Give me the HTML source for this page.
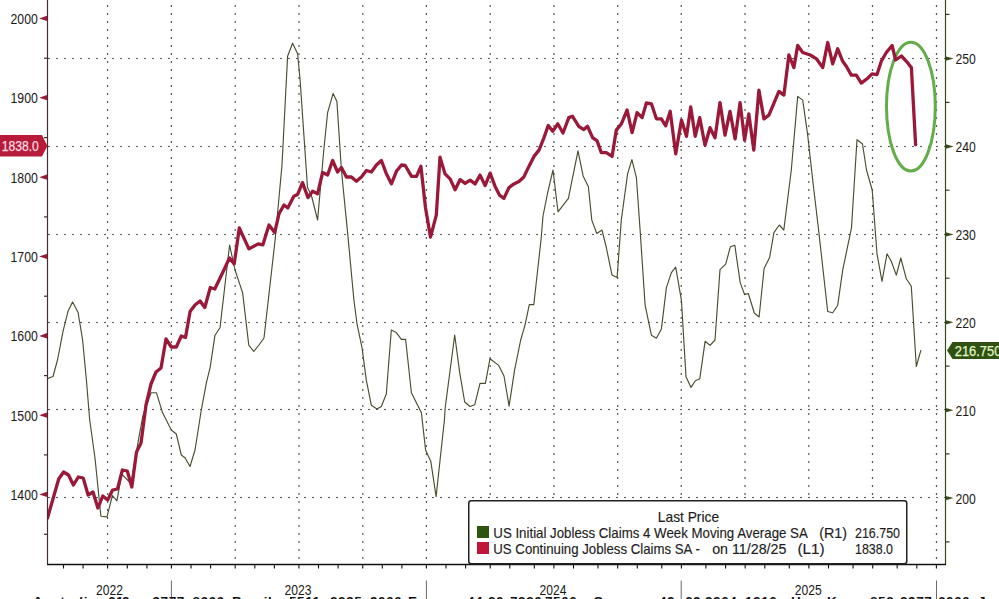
<!DOCTYPE html>
<html><head><meta charset="utf-8"><style>
html,body{margin:0;padding:0;background:#fff;width:999px;height:599px;overflow:hidden;position:relative}
text{font-family:"Liberation Sans",sans-serif}
.ax{font-size:14px;fill:#1a1a1a}
.lbl{font-size:14px}
.lg{font-size:14.5px;fill:#1c1c1c;stroke:#1c1c1c;stroke-width:0.15px}
#foot{position:absolute;left:0;top:594px;width:999px;height:20px;letter-spacing:0.6px;font-family:"Liberation Sans",sans-serif;font-size:13.5px;font-weight:bold;color:#111;white-space:nowrap}
</style></head><body>
<svg width="999" height="599" viewBox="0 0 999 599" style="position:absolute;left:0;top:0"><line x1="48" y1="58.5" x2="945" y2="58.5" stroke="#555" stroke-width="1.2" stroke-dasharray="2 6"/><line x1="48" y1="146.5" x2="945" y2="146.5" stroke="#555" stroke-width="1.2" stroke-dasharray="2 6"/><line x1="48" y1="234.5" x2="945" y2="234.5" stroke="#555" stroke-width="1.2" stroke-dasharray="2 6"/><line x1="48" y1="322.5" x2="945" y2="322.5" stroke="#555" stroke-width="1.2" stroke-dasharray="2 6"/><line x1="48" y1="409.5" x2="945" y2="409.5" stroke="#555" stroke-width="1.2" stroke-dasharray="2 6"/><line x1="48" y1="497.5" x2="945" y2="497.5" stroke="#555" stroke-width="1.2" stroke-dasharray="2 6"/><line x1="107.6" y1="0" x2="107.6" y2="564" stroke="#555" stroke-width="1.2" stroke-dasharray="2 6" stroke-dashoffset="3"/><line x1="171.4" y1="0" x2="171.4" y2="564" stroke="#555" stroke-width="1.2" stroke-dasharray="2 6" stroke-dashoffset="3"/><line x1="235.2" y1="0" x2="235.2" y2="564" stroke="#555" stroke-width="1.2" stroke-dasharray="2 6" stroke-dashoffset="3"/><line x1="299" y1="0" x2="299" y2="564" stroke="#555" stroke-width="1.2" stroke-dasharray="2 6" stroke-dashoffset="3"/><line x1="362.8" y1="0" x2="362.8" y2="564" stroke="#555" stroke-width="1.2" stroke-dasharray="2 6" stroke-dashoffset="3"/><line x1="426.4" y1="0" x2="426.4" y2="564" stroke="#555" stroke-width="1.2" stroke-dasharray="2 6" stroke-dashoffset="3"/><line x1="490.2" y1="0" x2="490.2" y2="564" stroke="#555" stroke-width="1.2" stroke-dasharray="2 6" stroke-dashoffset="3"/><line x1="554" y1="0" x2="554" y2="564" stroke="#555" stroke-width="1.2" stroke-dasharray="2 6" stroke-dashoffset="3"/><line x1="617.7" y1="0" x2="617.7" y2="564" stroke="#555" stroke-width="1.2" stroke-dasharray="2 6" stroke-dashoffset="3"/><line x1="681.2" y1="0" x2="681.2" y2="564" stroke="#555" stroke-width="1.2" stroke-dasharray="2 6" stroke-dashoffset="3"/><line x1="745" y1="0" x2="745" y2="564" stroke="#555" stroke-width="1.2" stroke-dasharray="2 6" stroke-dashoffset="3"/><line x1="808.8" y1="0" x2="808.8" y2="564" stroke="#555" stroke-width="1.2" stroke-dasharray="2 6" stroke-dashoffset="3"/><line x1="872.5" y1="0" x2="872.5" y2="564" stroke="#555" stroke-width="1.2" stroke-dasharray="2 6" stroke-dashoffset="3"/><line x1="936.5" y1="0" x2="936.5" y2="564" stroke="#555" stroke-width="1.2" stroke-dasharray="2 6" stroke-dashoffset="3"/><ellipse cx="910.9" cy="106.6" rx="24.4" ry="64.4" fill="none" stroke="#62ad4a" stroke-width="3"/><defs><clipPath id="pa"><rect x="48" y="0" width="897" height="564"/></clipPath></defs><g clip-path="url(#pa)"><polyline points="47.5,378.5 53,376.5 57.5,360 63,331.4 68,311.3 72.6,302 78.1,312.6 82.6,340 86.4,380 89.7,420 95,458 100.9,516.3 107,516.9 112.4,495.5 116.9,500.8 121.7,474.1 131,483.5 139,436.8 143,415.4 151.1,392.7 156.4,392.7 162.5,412.6 171.3,430 176.3,434 181.3,455 185,457.7 190,466.5 195,450 201.3,410 206.4,382.6 210.1,367.6 215,335.2 220,327.7 229.6,245 235,270 242.6,292.6 248.8,345.2 253.8,351.5 259,345 264,338 275.1,240 282,165 287.6,56.3 292.6,43.3 297.6,53.8 300.1,80 306.3,170 307.5,187.6 311.3,195 317.6,220 323.8,150 327.6,112.7 333.1,93.4 336.9,101.4 341.4,170 347.6,232.6 353.9,300 357,323.8 362,347.6 366.3,380.2 371.3,405.2 377,409 381.3,406.5 386.3,394 391.3,330 396.3,332.6 401.4,339.3 405.6,339.3 411.4,392.7 421.4,412.7 425.6,450 430.8,461.4 436.1,496.7 444.4,420 445.2,407.7 454.7,335 459.7,372.6 464.7,402 470,406.5 474.7,404.8 480,383.4 485.4,383.4 490,358.7 498.7,365.4 504,376 509.1,406.1 514.7,369.4 520.7,340 525,325.1 529.3,304.6 533.8,304.6 541,240 543,216 547.5,193.4 553,170 558,211.8 568.4,198.4 578,150.9 583.1,175.9 588.4,186.7 591.8,220.1 596.8,233.5 602,230 606.3,247.5 612,275.1 617.1,277.6 621.3,220 627.6,173.9 631.9,159.6 636.4,177.7 640.1,230 645.1,305.1 651.4,335.2 656.4,338.2 661.4,328.9 666.4,287.6 671.4,272.6 675.7,267.1 681.4,300.1 686,376.7 691,387.4 695.4,380.7 699.8,378.7 705.1,341.3 710,345.4 715,340 720,269.6 725.7,264.1 730.4,246.7 734.8,245.2 740.2,282.6 744.6,294.6 748.3,293.5 754.3,313 759.1,317 764.1,268.5 769.6,257.6 773.9,232.6 779.3,225 783.8,230.1 791.3,170 797.7,96.4 802.7,100.1 807.7,135.2 812.7,180 818.9,232.6 827.7,311.5 832.7,312.8 837.7,305.2 842.7,270.2 851.5,227.6 857,139.7 862.5,144 866.5,170 872.2,190 877,253.8 882,281.3 887,253.8 891.3,261.3 896.3,275.1 900.8,258 906.3,278.8 911.3,286.3 916.3,366.5 920.9,350.2" fill="none" stroke="#464f30" stroke-width="1.15" stroke-linejoin="round"/><polyline points="47.5,518 58.7,479 63.6,472 68.5,475 73.4,485 78.3,477 83.2,478 88.1,495 93,492 97.9,508 102.8,496 107.7,500 112.6,490 117.5,489 122.4,470 127.3,471 131.8,487 136.5,452 141,443 146,405 151,384 156,372 161,368 166,339 171.3,347 176.3,347 181.3,336 185.5,337.5 190.1,311.5 195,305 200.1,301 204.8,307.5 210.3,287.5 214.8,289 222.6,272.7 229.5,258 234.2,264 239.3,228 248.9,248.9 258.2,243.9 262.9,244.8 269,225 274.7,232.6 279,213.8 284,205 287.8,208 293.8,196.3 297.5,194.6 302.5,182.6 308,197.6 312.6,191.3 317.6,193.8 322.6,172.5 327.6,175 332.6,160.5 337.6,172 341.4,167.5 346.4,177 351.4,177 356.4,181.3 361.4,177 366.4,170.5 371.4,172 376.4,165 381.4,160.5 386.4,173.8 391.4,183.8 396.4,171.3 401.5,165 405.2,165.5 411.5,176.3 416.5,176.3 420.9,166.3 425.5,207.7 430.5,237.2 436.3,215.2 440,157.1 445,173.9 450.1,178.9 455.1,189.7 460.1,179.6 465.1,183.4 470.1,180.1 475.1,183.9 480.1,175.1 485.1,185.6 490.1,173.1 495.1,186.4 499.6,195.2 503.9,198.4 508.9,187.7 513.9,183.9 518.9,181.4 523.9,176.9 528.9,166.4 534,156.4 539,150.1 544,137.6 548.2,125.5 552.7,131.3 557.7,123.8 563,133 568.8,117.6 572.5,116.3 578.8,126.3 583.8,129.6 587.5,126.3 592.6,137.6 597.1,140.9 601.3,152.6 606.3,152.6 612.1,156.4 616.3,130.1 621.4,123.8 627.1,110 632.1,132.6 637.1,112.6 642.1,117.6 646.4,103 651.4,103.8 656.4,118.8 661.4,118.8 665.7,125.8 670.2,111.3 675.7,153.9 681.5,120.1 686.5,136.3 690.7,107 695.2,136.3 699.7,117.6 705,145.2 710,127.7 715,137.7 720,102.6 725,135.2 730,111.4 735.1,138.9 740.1,102.6 744.6,140.2 748.8,113.9 753.8,150.2 758.9,90.1 763.9,118.9 768.9,115.1 778.9,91.4 783.9,95.1 788.9,55 793.9,67.6 797.7,45.5 802.7,52.5 810.2,55 816.5,58.8 822.7,67.6 827.7,42.5 832.7,63.8 837.7,48.8 842.7,61.3 846.3,66.3 851.3,75.1 856.3,75.1 861.3,83.1 867,78.8 872,73.8 877,74.6 881.3,61.3 886.3,52.5 892.1,45.5 895.6,60 901.4,56 906.4,61.3 911.4,67.6 915.6,144.7" fill="none" stroke="#9a1838" stroke-width="3.3" stroke-linejoin="round" stroke-linecap="round"/></g><line x1="47.5" y1="0" x2="47.5" y2="565" stroke="#4a2a3a" stroke-width="1.2"/><line x1="945.5" y1="0" x2="945.5" y2="565" stroke="#3a4622" stroke-width="1.2"/><line x1="47" y1="564.5" x2="946" y2="564.5" stroke="#111" stroke-width="1.6"/><line x1="63.5" y1="564" x2="63.5" y2="568.5" stroke="#111" stroke-width="1.1"/><line x1="83.1" y1="564" x2="83.1" y2="568.5" stroke="#111" stroke-width="1.1"/><line x1="107.6" y1="564" x2="107.6" y2="568.5" stroke="#111" stroke-width="1.1"/><line x1="127.3" y1="564" x2="127.3" y2="568.5" stroke="#111" stroke-width="1.1"/><line x1="146.9" y1="564" x2="146.9" y2="568.5" stroke="#111" stroke-width="1.1"/><line x1="171.4" y1="564" x2="171.4" y2="568.5" stroke="#111" stroke-width="1.1"/><line x1="191.0" y1="564" x2="191.0" y2="568.5" stroke="#111" stroke-width="1.1"/><line x1="210.6" y1="564" x2="210.6" y2="568.5" stroke="#111" stroke-width="1.1"/><line x1="235.2" y1="564" x2="235.2" y2="568.5" stroke="#111" stroke-width="1.1"/><line x1="254.8" y1="564" x2="254.8" y2="568.5" stroke="#111" stroke-width="1.1"/><line x1="274.4" y1="564" x2="274.4" y2="568.5" stroke="#111" stroke-width="1.1"/><line x1="298.9" y1="564" x2="298.9" y2="568.5" stroke="#111" stroke-width="1.1"/><line x1="318.5" y1="564" x2="318.5" y2="568.5" stroke="#111" stroke-width="1.1"/><line x1="338.1" y1="564" x2="338.1" y2="568.5" stroke="#111" stroke-width="1.1"/><line x1="362.7" y1="564" x2="362.7" y2="568.5" stroke="#111" stroke-width="1.1"/><line x1="382.3" y1="564" x2="382.3" y2="568.5" stroke="#111" stroke-width="1.1"/><line x1="401.9" y1="564" x2="401.9" y2="568.5" stroke="#111" stroke-width="1.1"/><line x1="426.4" y1="564" x2="426.4" y2="568.5" stroke="#111" stroke-width="1.1"/><line x1="446.0" y1="564" x2="446.0" y2="568.5" stroke="#111" stroke-width="1.1"/><line x1="465.6" y1="564" x2="465.6" y2="568.5" stroke="#111" stroke-width="1.1"/><line x1="490.2" y1="564" x2="490.2" y2="568.5" stroke="#111" stroke-width="1.1"/><line x1="509.8" y1="564" x2="509.8" y2="568.5" stroke="#111" stroke-width="1.1"/><line x1="534.3" y1="564" x2="534.3" y2="568.5" stroke="#111" stroke-width="1.1"/><line x1="553.9" y1="564" x2="553.9" y2="568.5" stroke="#111" stroke-width="1.1"/><line x1="573.5" y1="564" x2="573.5" y2="568.5" stroke="#111" stroke-width="1.1"/><line x1="598.0" y1="564" x2="598.0" y2="568.5" stroke="#111" stroke-width="1.1"/><line x1="617.7" y1="564" x2="617.7" y2="568.5" stroke="#111" stroke-width="1.1"/><line x1="637.3" y1="564" x2="637.3" y2="568.5" stroke="#111" stroke-width="1.1"/><line x1="661.8" y1="564" x2="661.8" y2="568.5" stroke="#111" stroke-width="1.1"/><line x1="681.4" y1="564" x2="681.4" y2="568.5" stroke="#111" stroke-width="1.1"/><line x1="705.9" y1="564" x2="705.9" y2="568.5" stroke="#111" stroke-width="1.1"/><line x1="725.6" y1="564" x2="725.6" y2="568.5" stroke="#111" stroke-width="1.1"/><line x1="745.2" y1="564" x2="745.2" y2="568.5" stroke="#111" stroke-width="1.1"/><line x1="764.8" y1="564" x2="764.8" y2="568.5" stroke="#111" stroke-width="1.1"/><line x1="789.3" y1="564" x2="789.3" y2="568.5" stroke="#111" stroke-width="1.1"/><line x1="808.9" y1="564" x2="808.9" y2="568.5" stroke="#111" stroke-width="1.1"/><line x1="828.5" y1="564" x2="828.5" y2="568.5" stroke="#111" stroke-width="1.1"/><line x1="853.1" y1="564" x2="853.1" y2="568.5" stroke="#111" stroke-width="1.1"/><line x1="872.7" y1="564" x2="872.7" y2="568.5" stroke="#111" stroke-width="1.1"/><line x1="897.2" y1="564" x2="897.2" y2="568.5" stroke="#111" stroke-width="1.1"/><line x1="916.8" y1="564" x2="916.8" y2="568.5" stroke="#111" stroke-width="1.1"/><line x1="936.4" y1="564" x2="936.4" y2="568.5" stroke="#111" stroke-width="1.1"/><line x1="171.4" y1="580.5" x2="171.4" y2="599" stroke="#6a6a6a" stroke-width="1"/><line x1="426.4" y1="580.5" x2="426.4" y2="599" stroke="#6a6a6a" stroke-width="1"/><line x1="681.2" y1="580.5" x2="681.2" y2="599" stroke="#6a6a6a" stroke-width="1"/><line x1="936.5" y1="580.5" x2="936.5" y2="599" stroke="#6a6a6a" stroke-width="1"/><path d="M39.2 18.5 L47 15.7 L47 21.0 Z" fill="#9a1838"/><text x="10.5" y="23.9" class="ax" textLength="27.3" lengthAdjust="spacingAndGlyphs">2000</text><path d="M39.2 97.8 L47 95.0 L47 100.3 Z" fill="#9a1838"/><text x="10.5" y="103.2" class="ax" textLength="27.3" lengthAdjust="spacingAndGlyphs">1900</text><path d="M39.2 177.2 L47 174.4 L47 179.7 Z" fill="#9a1838"/><text x="10.5" y="182.5" class="ax" textLength="27.3" lengthAdjust="spacingAndGlyphs">1800</text><path d="M39.2 256.5 L47 253.7 L47 259.0 Z" fill="#9a1838"/><text x="10.5" y="261.9" class="ax" textLength="27.3" lengthAdjust="spacingAndGlyphs">1700</text><path d="M39.2 335.9 L47 333.1 L47 338.4 Z" fill="#9a1838"/><text x="10.5" y="341.2" class="ax" textLength="27.3" lengthAdjust="spacingAndGlyphs">1600</text><path d="M39.2 415.2 L47 412.4 L47 417.8 Z" fill="#9a1838"/><text x="10.5" y="420.6" class="ax" textLength="27.3" lengthAdjust="spacingAndGlyphs">1500</text><path d="M39.2 494.6 L47 491.8 L47 497.1 Z" fill="#9a1838"/><text x="10.5" y="499.9" class="ax" textLength="27.3" lengthAdjust="spacingAndGlyphs">1400</text><line x1="44" y1="58.2" x2="47" y2="58.2" stroke="#3a2a30" stroke-width="1.2"/><line x1="44" y1="137.6" x2="47" y2="137.6" stroke="#3a2a30" stroke-width="1.2"/><line x1="44" y1="216.9" x2="47" y2="216.9" stroke="#3a2a30" stroke-width="1.2"/><line x1="44" y1="296.2" x2="47" y2="296.2" stroke="#3a2a30" stroke-width="1.2"/><line x1="44" y1="375.6" x2="47" y2="375.6" stroke="#3a2a30" stroke-width="1.2"/><line x1="44" y1="454.9" x2="47" y2="454.9" stroke="#3a2a30" stroke-width="1.2"/><line x1="44" y1="534.3" x2="47" y2="534.3" stroke="#3a2a30" stroke-width="1.2"/><path d="M945 56.2 L953.5 58.6 L945 61.0 Z" fill="#3a4a1a"/><text x="955.5" y="64.1" class="ax" textLength="20.3" lengthAdjust="spacingAndGlyphs">250</text><path d="M945 144.1 L953.5 146.5 L945 148.9 Z" fill="#3a4a1a"/><text x="955.5" y="152.0" class="ax" textLength="20.3" lengthAdjust="spacingAndGlyphs">240</text><path d="M945 232.0 L953.5 234.4 L945 236.8 Z" fill="#3a4a1a"/><text x="955.5" y="239.9" class="ax" textLength="20.3" lengthAdjust="spacingAndGlyphs">230</text><path d="M945 319.9 L953.5 322.3 L945 324.7 Z" fill="#3a4a1a"/><text x="955.5" y="327.8" class="ax" textLength="20.3" lengthAdjust="spacingAndGlyphs">220</text><path d="M945 407.8 L953.5 410.2 L945 412.6 Z" fill="#3a4a1a"/><text x="955.5" y="415.7" class="ax" textLength="20.3" lengthAdjust="spacingAndGlyphs">210</text><path d="M945 495.7 L953.5 498.1 L945 500.5 Z" fill="#3a4a1a"/><text x="955.5" y="503.6" class="ax" textLength="20.3" lengthAdjust="spacingAndGlyphs">200</text><line x1="945" y1="14.4" x2="949.5" y2="14.4" stroke="#2e3a1e" stroke-width="1.2"/><line x1="945" y1="102.4" x2="949.5" y2="102.4" stroke="#2e3a1e" stroke-width="1.2"/><line x1="945" y1="190.2" x2="949.5" y2="190.2" stroke="#2e3a1e" stroke-width="1.2"/><line x1="945" y1="278.2" x2="949.5" y2="278.2" stroke="#2e3a1e" stroke-width="1.2"/><line x1="945" y1="366.1" x2="949.5" y2="366.1" stroke="#2e3a1e" stroke-width="1.2"/><line x1="945" y1="453.9" x2="949.5" y2="453.9" stroke="#2e3a1e" stroke-width="1.2"/><line x1="945" y1="541.9" x2="949.5" y2="541.9" stroke="#2e3a1e" stroke-width="1.2"/><path d="M0 135 L42 135 L47.4 146 L42 156.5 L0 156.5 Z" fill="#b81a3a"/><text x="1.8" y="151.2" class="lbl" fill="#ffdde3" stroke="#ffdde3" stroke-width="0.25" textLength="37" lengthAdjust="spacingAndGlyphs">1838.0</text><path d="M947 350.5 L952.5 342 L999 342 L999 359 L952.5 359 Z" fill="#2f5212"/><text x="954.8" y="356.2" class="lbl" fill="#e2f5c8" stroke="#e2f5c8" stroke-width="0.25" textLength="46.5" lengthAdjust="spacingAndGlyphs">216.750</text><rect x="468.75" y="500.75" width="438" height="63" rx="2.5" ry="2.5" fill="#fff" stroke="#222" stroke-width="1.5"/><rect x="477" y="526" width="12" height="12" fill="#2e5410"/><rect x="477" y="542" width="12" height="12" fill="#c0163a"/><text x="657.8" y="521.5" class="lg" textLength="61.3" lengthAdjust="spacingAndGlyphs">Last Price</text><text x="493.3" y="537.6" class="lg" textLength="314.5" lengthAdjust="spacingAndGlyphs">US Initial Jobless Claims 4 Week Moving Average SA</text><text x="819.3" y="537.6" class="lg" textLength="27.7" lengthAdjust="spacingAndGlyphs">(R1)</text><text x="855" y="537.6" class="lg" textLength="45" lengthAdjust="spacingAndGlyphs">216.750</text><text x="493.3" y="553.5" class="lg" textLength="206.5" lengthAdjust="spacingAndGlyphs">US Continuing Jobless Claims SA -</text><text x="712.2" y="553.5" class="lg" textLength="74.2" lengthAdjust="spacingAndGlyphs">on 11/28/25</text><text x="797.4" y="553.5" class="lg" textLength="27.2" lengthAdjust="spacingAndGlyphs">(L1)</text><text x="855" y="553.5" class="lg" textLength="38" lengthAdjust="spacingAndGlyphs">1838.0</text><text x="96" y="594.9" class="ax" textLength="27" lengthAdjust="spacingAndGlyphs">2022</text><text x="284.4" y="594.9" class="ax" textLength="27" lengthAdjust="spacingAndGlyphs">2023</text><text x="539.5" y="594.9" class="ax" textLength="27" lengthAdjust="spacingAndGlyphs">2024</text><text x="794.7" y="594.9" class="ax" textLength="27" lengthAdjust="spacingAndGlyphs">2025</text></svg>
<div id="foot"><span style="position:absolute;left:33px;top:0">Australia</span><span style="position:absolute;left:108px;top:0">61</span><span style="position:absolute;left:122px;top:0">2</span><span style="position:absolute;left:152.5px;top:0">9777</span><span style="position:absolute;left:192.5px;top:0">8600</span><span style="position:absolute;left:232px;top:0">Brazil</span><span style="position:absolute;left:289px;top:0">5511</span><span style="position:absolute;left:330px;top:0">2395</span><span style="position:absolute;left:370px;top:0">9000</span><span style="position:absolute;left:408px;top:0">Europe</span><span style="position:absolute;left:467px;top:0">44</span><span style="position:absolute;left:488px;top:0">20</span><span style="position:absolute;left:510px;top:0">7330</span><span style="position:absolute;left:545px;top:0">7500</span><span style="position:absolute;left:593px;top:0">Germany</span><span style="position:absolute;left:659px;top:0">49</span><span style="position:absolute;left:685px;top:0">69</span><span style="position:absolute;left:705px;top:0">9204</span><span style="position:absolute;left:745px;top:0">1210</span><span style="position:absolute;left:791px;top:0">Hong</span><span style="position:absolute;left:827px;top:0">Kong</span><span style="position:absolute;left:870px;top:0">852</span><span style="position:absolute;left:900px;top:0">2977</span><span style="position:absolute;left:938px;top:0">6000</span><span style="position:absolute;left:978px;top:0">Japan</span></div>
</body></html>
